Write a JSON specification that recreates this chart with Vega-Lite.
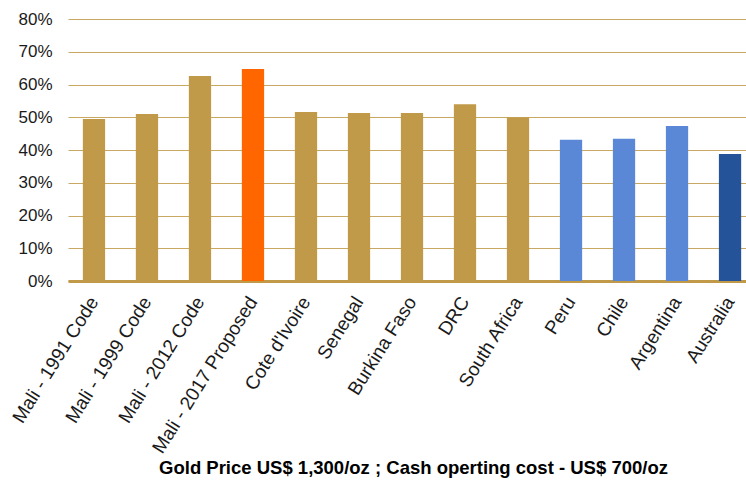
{
  "$schema": "https://vega.github.io/schema/vega-lite/v6.json",
  "width": 688,
  "height": 262,
  "autosize": {"type": "none"},
  "padding": {"left": 68, "top": 19, "right": 0, "bottom": 199},
  "background": "white",
  "config": {
    "view": {"stroke": null},
    "font": "Liberation Sans"
  },
  "data": {
    "values": [
      {"label": "Mali - 1991 Code", "rate": 0.495, "group": "Africa"},
      {"label": "Mali - 1999 Code", "rate": 0.510, "group": "Africa"},
      {"label": "Mali - 2012 Code", "rate": 0.626, "group": "Africa"},
      {"label": "Mali - 2017 Proposed", "rate": 0.647, "group": "Proposed"},
      {"label": "Cote d'Ivoire", "rate": 0.516, "group": "Africa"},
      {"label": "Senegal", "rate": 0.513, "group": "Africa"},
      {"label": "Burkina Faso", "rate": 0.513, "group": "Africa"},
      {"label": "DRC", "rate": 0.540, "group": "Africa"},
      {"label": "South Africa", "rate": 0.499, "group": "Africa"},
      {"label": "Peru", "rate": 0.431, "group": "Latin America"},
      {"label": "Chile", "rate": 0.434, "group": "Latin America"},
      {"label": "Argentina", "rate": 0.473, "group": "Latin America"},
      {"label": "Australia", "rate": 0.388, "group": "Australia"}
    ]
  },
  "mark": {"type": "bar"},
  "encoding": {
    "x": {
      "field": "label",
      "type": "nominal",
      "sort": null,
      "scale": {"paddingInner": 0.58, "paddingOuter": 0.28},
      "axis": {
        "title": "Gold Price US$ 1,300/oz ; Cash operting cost - US$ 700/oz",
        "titleFont": "Liberation Sans",
        "titleFontSize": 18.5,
        "titleFontWeight": "bold",
        "titleColor": "#000000",
        "titleBaseline": "alphabetic",
        "titleY": 192,
        "titleX": 345,
        "labelAngle": -58,
        "labelAlign": "right",
        "labelBaseline": "middle",
        "labelFontSize": 19,
        "labelColor": "#1a1a1a",
        "labelPadding": 17,
        "labelLimit": 300,
        "ticks": false,
        "domainColor": "#C09A48",
        "domainWidth": 3
      }
    },
    "y": {
      "field": "rate",
      "type": "quantitative",
      "scale": {"domain": [0, 0.8], "nice": false},
      "axis": {
        "title": null,
        "format": ".0%",
        "values": [0, 0.1, 0.2, 0.3, 0.4, 0.5, 0.6, 0.7, 0.8],
        "labelFontSize": 17,
        "labelColor": "#1a1a1a",
        "labelPadding": 16,
        "ticks": false,
        "domain": false,
        "grid": true,
        "gridColor": "#C8A862",
        "gridWidth": 1.2
      }
    },
    "color": {
      "field": "group",
      "type": "nominal",
      "scale": {
        "domain": ["Africa", "Proposed", "Latin America", "Australia"],
        "range": ["#C09A48", "#FF6600", "#5A88D6", "#245399"]
      },
      "legend": null
    }
  }
}
